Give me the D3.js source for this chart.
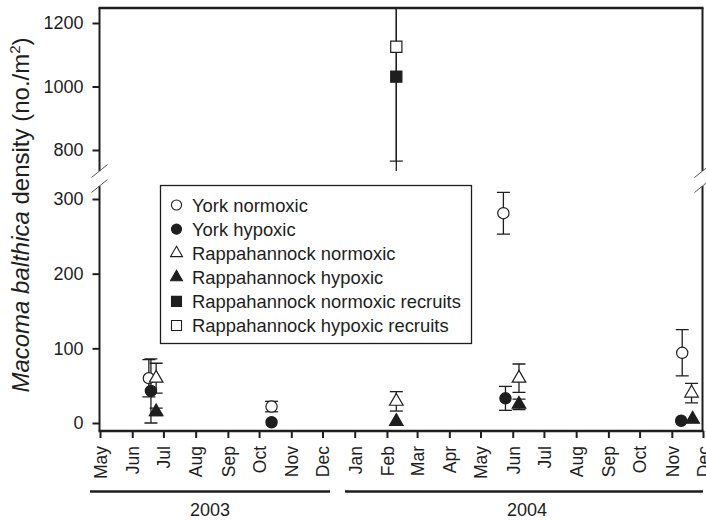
<!DOCTYPE html>
<html>
<head>
<meta charset="utf-8">
<script src="https://cdn.jsdelivr.net/npm/d3@7"></script>
<style>
	body { margin: 0; background: #fff; }
	text { font-family: "Liberation Sans", Arial, sans-serif; fill: #1e1e1e; }
</style>
</head>
<body>
<svg id="chart" width="706" height="520"></svg>
<script>
// values (mean density, error)
var seriesNames = ["York normoxic", "York hypoxic", "Rappahannock normoxic", "Rappahannock hypoxic", "Rappahannock normoxic recruits", "Rappahannock hypoxic recruits"]

var yorkNormDates = ["2003-06-17", "2003-10-13", "2004-05-23", "2004-11-11"]
var yorkNormMean = [60, 22, 281, 94]
var yorkNormErr = [25, 7, 28, 31]

var yorkHypDates = ["2003-06-19", "2003-10-13", "2004-05-25", "2004-11-10"]
var yorkHypMean = [43, 1, 33, 3]
var yorkHypErr = [43, 0, 16, 0]

var rappNormDates = ["2003-06-24", "2004-02-10", "2004-06-07", "2004-11-20"]
var rappNormMean = [60, 29, 60, 40]
var rappNormErr = [20, 13, 19, 13]

var rappHypDates = ["2003-06-24", "2004-02-10", "2004-06-07", "2004-11-21"]
var rappHypMean = [15, 2, 25, 5]
var rappHypErr = [5, 0, 7, 0]

var recNormDates = ["2004-02-10"]
var recNormMean = [1031]
var recNormErr = [266]

var recHypDates = ["2004-02-10"]
var recHypMean = [1125]
var recHypErr = [420]

var lowTicks = [0, 100, 200, 300]
var highTicks = [800, 1000, 1200]
var monthTicks = d3.timeMonth.range(new Date(2003, 4, 1), new Date(2004, 11, 2))
var yearLabels = ["2003", "2004"]

var ink = "#1e1e1e"
var parse = d3.timeParse("%Y-%m-%d")

function makeSeries(name, shape, filled, dates, means, errs) {
	return dates.map((d, i) => ({name: name, shape: shape, filled: filled, date: parse(d), mean: means[i], err: errs[i]}))
}

var series = [
	makeSeries(seriesNames[0], "circle", false, yorkNormDates, yorkNormMean, yorkNormErr),
	makeSeries(seriesNames[1], "circle", true, yorkHypDates, yorkHypMean, yorkHypErr),
	makeSeries(seriesNames[2], "triangle", false, rappNormDates, rappNormMean, rappNormErr),
	makeSeries(seriesNames[3], "triangle", true, rappHypDates, rappHypMean, rappHypErr),
	makeSeries(seriesNames[4], "square", true, recNormDates, recNormMean, recNormErr),
	makeSeries(seriesNames[5], "square", false, recHypDates, recHypMean, recHypErr)
]
var points = series.flat()

// note: "top" is taken by window.top, so plotTop
var plotLeft = 99.5, plotRight = 702.5, plotTop = 8, plotBottom = 431
var hiBottom = 171, loTop = 186

var x = d3.scaleTime()
	.domain([new Date(2003, 4, 1), new Date(2004, 11, 1)])
	.range([100, 703])

var yLo = d3.scaleLinear().domain([0, 300]).range([423, 199])
var yHi = d3.scaleLinear().domain([800, 1200]).range([150, 23])

var isHigh = d => d.mean > 500
var yOf = d => isHigh(d) ? yHi(d.mean) : yLo(d.mean)

var svg = d3.select("#chart")

var defs = svg.append("defs")
defs.append("clipPath").attr("id", "clipHi")
	.append("rect").attr("x", plotLeft).attr("y", plotTop).attr("width", plotRight - plotLeft).attr("height", hiBottom - plotTop)
defs.append("clipPath").attr("id", "clipLo")
	.append("rect").attr("x", plotLeft).attr("y", loTop).attr("width", plotRight - plotLeft).attr("height", plotBottom - loTop)

function symbolPath(shape, size) {
	let type = shape == "circle" ? d3.symbolCircle : shape == "triangle" ? d3.symbolTriangle : d3.symbolSquare
	return d3.symbol().type(type).size(size)()
}
var markSize = {circle: 100, triangle: 80, square: 125}
var legendSize = {circle: 80, triangle: 62, square: 100}

// error bars
var bars = points.filter(d => d.err > 0)
function drawBars(sel, scale) {
	let g = sel.selectAll(".bar")
		.data(d => d)
		.join("g")
		.attr("class", "bar")
		.attr("stroke", ink)
		.attr("stroke-width", 1.3)
	g.append("line")
		.attr("x1", d => x(d.date)).attr("x2", d => x(d.date))
		.attr("y1", d => scale(d.mean - d.err)).attr("y2", d => scale(d.mean + d.err))
	g.append("line")
		.attr("x1", d => x(d.date) - 6.5).attr("x2", d => x(d.date) + 6.5)
		.attr("y1", d => scale(d.mean - d.err)).attr("y2", d => scale(d.mean - d.err))
	g.append("line")
		.attr("x1", d => x(d.date) - 6.5).attr("x2", d => x(d.date) + 6.5)
		.attr("y1", d => scale(d.mean + d.err)).attr("y2", d => scale(d.mean + d.err))
}
svg.append("g").attr("clip-path", "url(#clipHi)")
	.datum(bars.filter(isHigh))
	.call(drawBars, yHi)
svg.append("g").attr("clip-path", "url(#clipLo)")
	.datum(bars.filter(d => !isHigh(d)))
	.call(drawBars, yLo)

// markers
svg.append("g")
	.selectAll("path")
	.data(points)
	.join("path")
	.attr("d", d => symbolPath(d.shape, markSize[d.shape]))
	.attr("transform", d => "translate(" + x(d.date) + "," + yOf(d) + ")")
	.attr("fill", d => d.filled ? ink : "#fff")
	.attr("stroke", ink)
	.attr("stroke-width", 1.2)

// frame with axis break
var frame = svg.append("g").attr("stroke", ink).attr("fill", "none")
frame.append("line").attr("x1", plotLeft - 1).attr("x2", plotRight + 1).attr("y1", plotTop).attr("y2", plotTop).attr("stroke-width", 2.5)
frame.append("line").attr("x1", plotLeft - 1).attr("x2", plotRight + 1).attr("y1", plotBottom).attr("y2", plotBottom).attr("stroke-width", 2.5)
for (let xx of [plotLeft, plotRight]) {
	frame.append("line").attr("x1", xx).attr("x2", xx).attr("y1", plotTop).attr("y2", hiBottom).attr("stroke-width", 2)
	frame.append("line").attr("x1", xx).attr("x2", xx).attr("y1", loTop).attr("y2", plotBottom).attr("stroke-width", 2)
	for (let yy of [hiBottom, loTop]) {
		frame.append("line")
			.attr("x1", xx - 8).attr("y1", yy + 6.5)
			.attr("x2", xx + 8).attr("y2", yy - 6.5)
			.attr("stroke-width", 1)
			.attr("stroke", "#555")
	}
}

// y axes
function styleAxis(g) {
	g.select(".domain").remove()
	g.selectAll(".tick line").attr("stroke", ink).attr("stroke-width", 2)
	g.selectAll(".tick text").attr("font-size", 18).attr("fill", ink)
}
svg.append("g")
	.attr("transform", "translate(" + plotLeft + ",0)")
	.call(d3.axisLeft(yLo).tickValues(lowTicks).tickFormat(d3.format("d")).tickSize(7).tickPadding(9))
	.call(styleAxis)
svg.append("g")
	.attr("transform", "translate(" + plotLeft + ",0)")
	.call(d3.axisLeft(yHi).tickValues(highTicks).tickFormat(d3.format("d")).tickSize(7).tickPadding(9))
	.call(styleAxis)

// x axis
var xg = svg.append("g")
	.attr("transform", "translate(0," + plotBottom + ")")
	.call(d3.axisBottom(x).tickValues(monthTicks).tickFormat(d3.timeFormat("%b")).tickSize(7))
	.call(styleAxis)
xg.selectAll(".tick text")
	.attr("transform", "rotate(-90)")
	.attr("text-anchor", "end")
	.attr("x", -15)
	.attr("y", 0)
	.attr("dy", "0.36em")
	.attr("font-size", 17.5)

// year brackets
var years = [
	{label: yearLabels[0], x0: 90, x1: 330},
	{label: yearLabels[1], x0: 345, x1: 703}
]
var yg = svg.append("g").selectAll("g").data(years).join("g")
yg.append("line")
	.attr("x1", d => d.x0).attr("x2", d => d.x1)
	.attr("y1", 491.5).attr("y2", 491.5)
	.attr("stroke", ink).attr("stroke-width", 2.5)
yg.append("text")
	.attr("x", d => (d.x0 + d.x1) / 2 + (d.label == "2004" ? 3 : 0))
	.attr("y", 516)
	.attr("text-anchor", "middle")
	.attr("font-size", 18)
	.text(d => d.label)

// y title
var title = svg.append("text")
	.attr("transform", "translate(29,215) rotate(-90)")
	.attr("text-anchor", "middle")
	.attr("font-size", 24)
title.append("tspan").attr("font-style", "italic").text("Macoma balthica")
title.append("tspan").text(" density (no./m")
title.append("tspan").attr("font-size", 15).attr("dy", "-0.6em").text("2")
title.append("tspan").attr("dy", "0.38em").text(")")

// legend
var legend = svg.append("g")
legend.append("rect")
	.attr("x", 160.5).attr("y", 185.5).attr("width", 311).attr("height", 158)
	.attr("fill", "#fff").attr("stroke", ink).attr("stroke-width", 1.3)
var items = legend.selectAll(".item")
	.data(series.map(s => s[0]))
	.join("g")
	.attr("class", "item")
	.attr("transform", (d, i) => "translate(176.5," + (205 + i * 24.1) + ")")
items.append("path")
	.attr("d", d => symbolPath(d.shape, legendSize[d.shape]))
	.attr("fill", d => d.filled ? ink : "#fff")
	.attr("stroke", ink)
	.attr("stroke-width", 1.1)
items.append("text")
	.attr("x", 15.5)
	.attr("dy", "0.36em")
	.attr("font-size", 18.4)
	.text(d => d.name)
</script>
</body>
</html>
